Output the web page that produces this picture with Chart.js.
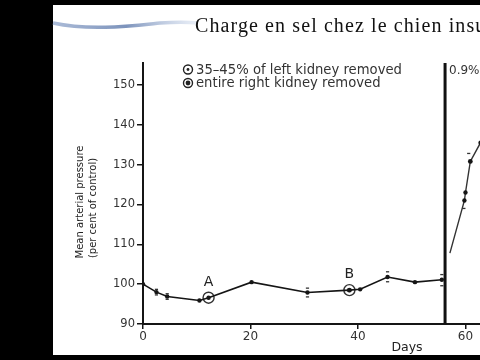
<!DOCTYPE html>
<html>
<head>
<meta charset="utf-8">
<script src="https://cdn.jsdelivr.net/npm/chart.js@4.4.1/dist/chart.umd.min.js"></script>
<style>
  html, body { margin: 0; padding: 0; background: #000; overflow: hidden; }
  #wrap { width: 480px; height: 360px; }
</style>
</head>
<body>
<div id="wrap"><canvas id="chart" width="480" height="360"></canvas></div>
<script>
// Values
const chartTitle = 'Charge en sel chez le chien insuffisant rénal';
const legendLabels = ['35–45% of left kidney removed', 'entire right kidney removed'];
const yTitle = ['Mean arterial pressure', '(per cent of control)'];
const xTitle = 'Days';
const saltLabel = '0.9%';

const xTicks = [0, 20, 40, 60];
const yTicks = [90, 100, 110, 120, 130, 140, 150];

// control period (days, % of control)
const baseDays = [0, 2.5, 4.5, 10.5, 12.2, 20.2, 30.6, 38.4, 40.4, 45.5, 50.6, 55.6];
const basePressure = [100, 98, 96.9, 95.9, 96.6, 100.5, 97.9, 98.5, 98.7, 101.8, 100.5, 101.1];

// after salt loading
const saltDays = [57.1, 59.8, 60.0, 60.9, 62.8, 64.5];
const saltPressure = [107.8, 121, 123, 130.8, 135.5, 139];

// surgery marks A and B
const markNames = ['A', 'B'];
const markDays = [12.2, 38.4];
const markPressure = [96.6, 98.5];

// little error ticks
const errDays = [2.5, 2.5, 4.5, 4.5, 30.6, 30.6, 45.5, 45.5, 55.6, 55.6, 59.7, 60.6];
const errValues = [98.7, 97.3, 97.6, 96.2, 99.0, 96.8, 103.1, 100.6, 102.4, 99.6, 119, 132.8];

// day salt loading starts
const saltStart = 56.2;

function pts(xs, ys) {
    return xs.map((x, i) => ({ x: x, y: ys[i] }));
}

const ink = '#151515';
const sans = '"DejaVu Sans", Verdana, sans-serif';

// frame, title, legend and labels drawn on the canvas
const decor = {
    id: 'decor',
    beforeDraw(chart) {
        const c = chart.ctx;
        c.save();
        c.fillStyle = '#000';
        c.fillRect(0, 0, 480, 360);
        c.fillStyle = '#fff';
        c.fillRect(53, 5, 427, 350);

        // blue swoosh left of the title
        const g = c.createLinearGradient(53, 0, 200, 0);
        g.addColorStop(0, 'rgba(150,170,205,0.8)');
        g.addColorStop(0.5, 'rgba(110,135,180,0.9)');
        g.addColorStop(1, 'rgba(190,205,230,0.3)');
        c.strokeStyle = g;
        c.lineWidth = 3.5;
        c.beginPath();
        c.moveTo(53, 23);
        c.bezierCurveTo(90, 31, 130, 26, 160, 23);
        c.bezierCurveTo(175, 22, 188, 22, 198, 23);
        c.stroke();
        c.restore();
    },
    afterDraw(chart) {
        const c = chart.ctx;
        const x = chart.scales.x, y = chart.scales.y;
        c.save();
        c.fillStyle = '#111';
        c.font = '20px "Liberation Serif", "Times New Roman", serif';
        c.letterSpacing = '1.1px';
        c.textBaseline = 'alphabetic';
        c.fillText(chartTitle, 195, 32);
        c.letterSpacing = '0px';

        // legend
        c.fillStyle = '#333';
        c.font = '13.2px ' + sans;
        c.fillText(legendLabels[0], 196, 74);
        c.fillText(legendLabels[1], 196, 87);
        c.strokeStyle = '#222';
        c.lineWidth = 1.4;
        c.beginPath(); c.arc(188, 69.5, 4.5, 0, Math.PI * 2); c.stroke();
        c.beginPath(); c.arc(188, 69.5, 1.4, 0, Math.PI * 2); c.fillStyle = '#222'; c.fill();
        c.beginPath(); c.arc(188, 83, 4.5, 0, Math.PI * 2); c.stroke();
        c.beginPath(); c.arc(188, 83, 2.4, 0, Math.PI * 2); c.fill();

        // salt label
        c.fillStyle = '#333';
        c.font = '12px ' + sans;
        c.fillText(saltLabel, 449, 74);

        // A / B
        c.font = '14px ' + sans;
        c.textAlign = 'center';
        c.fillStyle = '#222';
        markNames.forEach((n, i) => {
            c.fillText(n, x.getPixelForValue(markDays[i]), y.getPixelForValue(markPressure[i]) - 12);
        });

        // axis titles
        c.font = '12.5px ' + sans;
        c.fillText(xTitle, 407, 351);
        c.font = '10px ' + sans;
        c.translate(83, 202);
        c.rotate(-Math.PI / 2);
        c.fillText(yTitle[0], 0, 0);
        c.fillText(yTitle[1], -6, 13);
        c.restore();
    }
};

const ctx = document.getElementById('chart').getContext('2d');
const chart = new Chart(ctx, {
    type: 'scatter',
    data: {
        datasets: [
            {
                label: 'control',
                data: pts(baseDays, basePressure),
                showLine: true,
                borderColor: ink,
                borderWidth: 1.6,
                backgroundColor: ink,
                pointRadius: 2.2,
                pointBorderWidth: 0
            },
            {
                label: 'salt',
                data: pts(saltDays, saltPressure),
                showLine: true,
                borderColor: '#333',
                borderWidth: 1.4,
                backgroundColor: ink,
                pointRadius: [0, 2.2, 2.2, 2.4, 2.2, 0],
                pointBorderWidth: 0
            },
            {
                label: 'marks',
                data: pts(markDays, markPressure),
                showLine: false,
                borderColor: '#333',
                borderWidth: 1.4,
                backgroundColor: 'rgba(255,255,255,0)',
                pointRadius: 5.5
            },
            {
                label: 'marks dot',
                data: pts(markDays, markPressure),
                showLine: false,
                backgroundColor: '#333',
                pointRadius: [1.5, 2.4],
                pointBorderWidth: 0
            },
            {
                label: 'error',
                data: pts(errDays, errValues),
                showLine: false,
                pointStyle: 'line',
                borderColor: '#333',
                borderWidth: 1.3,
                pointRadius: 1.6
            },
            {
                label: 'salt start',
                data: pts([saltStart, saltStart], [90, 155.5]),
                showLine: true,
                borderColor: '#111',
                borderWidth: 3,
                pointRadius: 0
            }
        ]
    },
    options: {
        responsive: false,
        animation: false,
        events: [],
        layout: { autoPadding: false, padding: { top: 63, right: 0, left: 0, bottom: 0 } },
        plugins: { legend: { display: false }, tooltip: { enabled: false } },
        scales: {
            x: {
                type: 'linear',
                min: 0,
                max: 62.7,
                afterFit(s) { s.height = 36; s.paddingLeft = 0; s.paddingRight = 0; },
                afterBuildTicks(s) { s.ticks = xTicks.map(v => ({ value: v })); },
                grid: { drawOnChartArea: false, tickLength: 5, color: ink, lineWidth: 1.5 },
                border: { display: true, color: ink, width: 2 },
                ticks: { padding: 1, color: '#333', font: { family: sans, size: 12 } }
            },
            y: {
                type: 'linear',
                min: 90,
                max: 155.5,
                afterFit(s) { s.width = 143; s.paddingTop = 0; s.paddingBottom = 0; },
                afterBuildTicks(s) { s.ticks = yTicks.map(v => ({ value: v })); },
                grid: { drawOnChartArea: false, tickLength: 6, color: ink, lineWidth: 1.5 },
                border: { display: true, color: ink, width: 2 },
                ticks: { padding: 2, color: '#333', font: { family: sans, size: 11.5 } }
            }
        }
    },
    plugins: [decor]
});
</script>
</body>
</html>
